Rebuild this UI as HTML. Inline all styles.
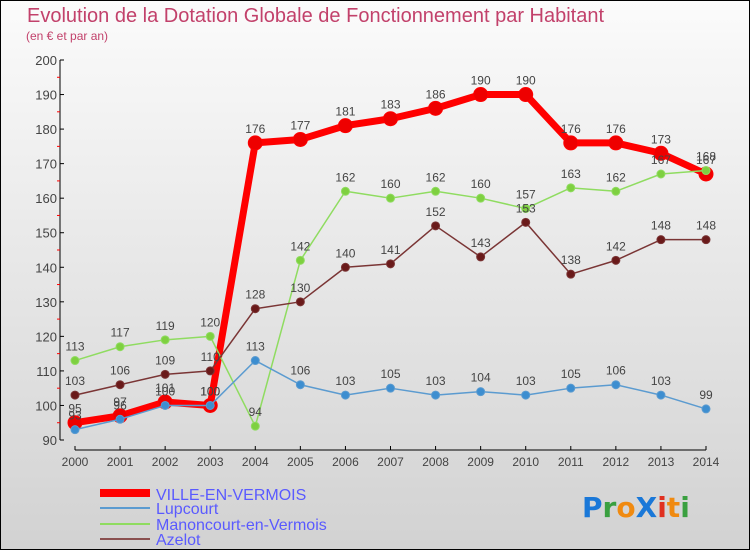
<!DOCTYPE html>
<html><head><meta charset="utf-8"><style>
body{margin:0;width:750px;height:550px;overflow:hidden;font-family:"Liberation Sans",sans-serif}
svg{display:block}
</style></head><body>
<svg id="c" width="750" height="550">
<defs><linearGradient id="bg" x1="0" y1="0" x2="0" y2="1"><stop offset="0" stop-color="#fbfbfb"/><stop offset="1" stop-color="#d2d2d2"/></linearGradient></defs>
<rect x="0.5" y="0.5" width="749" height="549" fill="url(#bg)" stroke="#000"/>
<text x="27" y="22" font-size="20" fill="#c2416b">Evolution de la Dotation Globale de Fonctionnement par Habitant</text>
<text x="26" y="40" font-size="12" fill="#c2416b">(en € et par an)</text>
<g id="axes"></g><g id="series"></g>
<g>
<line x1="100" y1="493" x2="150" y2="493" stroke="#f00" stroke-width="8"/>
<text x="156" y="500" font-size="16" fill="#5a5aff">VILLE-EN-VERMOIS</text>
<line x1="100" y1="508" x2="150" y2="508" stroke="#5b9bd0" stroke-width="2"/>
<text x="156" y="514" font-size="16" fill="#5a5aff">Lupcourt</text>
<line x1="100" y1="524" x2="150" y2="524" stroke="#8fdc60" stroke-width="2"/>
<text x="156" y="530" font-size="16" fill="#5a5aff">Manoncourt-en-Vermois</text>
<line x1="100" y1="539" x2="150" y2="539" stroke="#8a5050" stroke-width="2"/>
<text x="156" y="545" font-size="16" fill="#5a5aff">Azelot</text>
</g>
<g font-size="28" font-family="'DejaVu Sans',sans-serif" font-weight="bold">
<text x="582" y="517"><tspan fill="#1a78d8">P</tspan><tspan fill="#3aa040">r</tspan><tspan fill="#f08a10">o</tspan><tspan fill="#1a78d8">X</tspan><tspan fill="#e03020">i</tspan><tspan fill="#f08a10">t</tspan><tspan fill="#3aa040">i</tspan></text>
</g>
</svg>
<script>
const years=[2000,2001,2002,2003,2004,2005,2006,2007,2008,2009,2010,2011,2012,2013,2014];
const yTicks=[90,100,110,120,130,140,150,160,170,180,190,200];
const ville=[95,97,101,100,176,177,181,183,186,190,190,176,176,173,167];
const lupcourt=[93,96,100,100,113,106,103,105,103,104,103,105,106,103,99];
const manoncourt=[113,117,119,120,94,142,162,160,162,160,157,163,162,167,168];
const azelot=[103,106,109,110,128,130,140,141,152,143,153,138,142,148,148];
const NS="http://www.w3.org/2000/svg";
const xS=i=>75+i*(706-75)/(years.length-1);
const yS=v=>440-(v-90)*(380/110);
function mk(t,a,p){const e=document.createElementNS(NS,t);for(const k in a)e.setAttribute(k,a[k]);p.appendChild(e);return e;}
const ax=document.getElementById('axes');
let yl=mk('line',{x1:60,y1:60,x2:60,y2:440,stroke:'#000'},ax);


yTicks.forEach(v=>{
  mk('line',{x1:60,y1:yS(v),x2:64,y2:yS(v),stroke:'#000'},ax);
  if(v<200){mk('line',{x1:57,y1:yS(v+5),x2:60,y2:yS(v+5),stroke:'#f00'},ax);}
  const t=mk('text',{x:57,y:yS(v)+5,'font-size':13,fill:'#444','text-anchor':'end'},ax);
  t.textContent=v;
  
  
});
let xl=mk('line',{x1:75,y1:450,x2:706,y2:450,stroke:'#000'},ax);


years.forEach((y,i)=>{
  mk('line',{x1:xS(i),y1:446,x2:xS(i),y2:450,stroke:'#000'},ax);
  const t=mk('text',{x:xS(i),y:466,'font-size':12,fill:'#444','text-anchor':'middle'},ax);
  t.textContent=y;
  
  
});
const sg=document.getElementById('series');
function draw(vals,name,color,w,r,dot){
  const g=mk('g',{},sg);
  
  
  const pl=mk('polyline',{points:vals.map((v,i)=>xS(i)+','+yS(v)).join(' '),fill:'none',stroke:color,'stroke-width':w,'stroke-linejoin':'round'},g);
  
  
  vals.forEach((v,i)=>{
    const c=mk('circle',{cx:xS(i),cy:yS(v),r:r,fill:dot,stroke:color,'stroke-width':1},g);
    
    
    const t=mk('text',{x:xS(i),y:yS(v)-10,'font-size':12,fill:'#444','text-anchor':'middle'},g);
    t.textContent=v;
    
    
  });
}
draw(ville,'ville','#f00',7,7,'#e00');
draw(manoncourt,'manoncourt','#8fdc60',1.5,4,'#7ed040');
draw(azelot,'azelot','#7a3535',1.5,4,'#6a1a1a');
draw(lupcourt,'lupcourt','#5b9bd0',1.5,4,'#3d8ed0');
</script>
</body></html>
